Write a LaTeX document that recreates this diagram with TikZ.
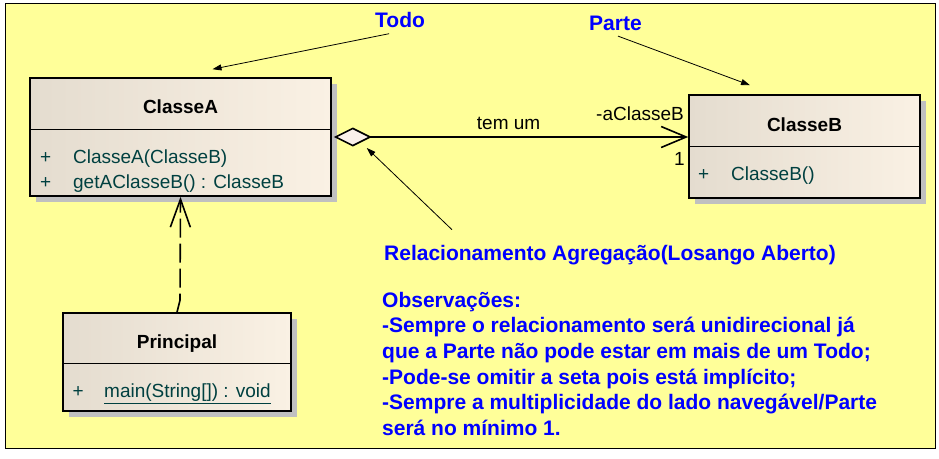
\documentclass[tikz,border=0pt]{standalone}
\usepackage{fontspec}
\setmainfont{Liberation Sans}
\usepackage{tikz}
\usetikzlibrary{arrows.meta,calc,shadows}
\definecolor{paper}{HTML}{FFFF99}
\definecolor{classleft}{HTML}{E4DCCF}
\definecolor{classright}{HTML}{FAF1E4}
\definecolor{shadowgray}{HTML}{C0C0C0}
\definecolor{membertext}{HTML}{004040}
\definecolor{noteblue}{HTML}{0000FF}
\definecolor{diamondfill}{HTML}{FAF0EA}
\tikzset{
  frame/.style={draw=black, line width=1pt, fill=paper},
  classbox/.style={draw=black, line width=1.6pt, left color=classleft, right color=classright, inner sep=0pt,
    drop shadow={shadow xshift=6pt, shadow yshift=-6pt, fill=shadowgray, opacity=1}},
  divider/.style={draw=black, line width=1.2pt},
  classname/.style={font=\fontsize{19}{23}\selectfont\bfseries, text=black, inner sep=0pt, anchor=base},
  member/.style={font=\fontsize{19}{23}\selectfont, text=membertext, inner sep=0pt, anchor=base west},
  assoc/.style={font=\fontsize{19}{23}\selectfont, text=black, inner sep=0pt, anchor=base west},
  note/.style={font=\fontsize{21}{25.6}\selectfont\bfseries, text=noteblue, inner sep=0pt, anchor=base west},
  pointer/.style={-{Triangle[length=9pt,width=6pt]}, line width=0.8pt, draw=black},
  aggregation/.style={line width=1.6pt, {Diamond[fill=diamondfill,length=38pt,width=19pt]}-{Straight Barb[length=25pt,width=21pt]}},
  dependency/.style={line width=1.6pt, dash pattern=on 19pt off 6pt, -{Straight Barb[length=28pt,width=20pt]}}
}

\begin{document}
\begin{tikzpicture}[x=1pt,y=-1pt]
  \useasboundingbox (0,0) rectangle (939,458);
  \draw[frame] (5,3) rectangle (935,448);

  % classes
  \node[classbox, minimum width=301pt, minimum height=118pt] (classA) at (180.5,137) {};
  \node[classbox, minimum width=231pt, minimum height=103pt] (classB) at (804.5,146.5) {};
  \node[classbox, minimum width=228pt, minimum height=98pt] (principal) at (177,362) {};
  \draw[divider] ($(classA.north west)+(0,52)$) -- ($(classA.north east)+(0,52)$);
  \draw[divider] ($(classB.north west)+(0,52)$) -- ($(classB.north east)+(0,52)$);
  \draw[divider] ($(principal.north west)+(0,51)$) -- ($(principal.north east)+(0,51)$);

  \node[classname] (nameA) at (180.5,113.5) {ClasseA};
  \node[classname] (nameB) at (804.5,131) {ClasseB};
  \node[classname] (nameP) at (177,348) {Principal};

  \node[member] (opA1) at (40,163.5) {\makebox[33pt][l]{+}ClasseA(ClasseB)};
  \node[member] (opA2) at (40,188) {\makebox[33pt][l]{+}getAClasseB() : ClasseB};
  \node[member] (opB1) at (698,180) {\makebox[33pt][l]{+}ClasseB()};
  \node[member] (opP1) at (72.5,397.7) {\makebox[31.5pt][l]{+}\underline{main(String[]) : void}};

  % association ends
  \node[assoc] (assocname) at (476.7,129) {tem um};
  \node[assoc] (roleB) at (596,120.7) {-aClasseB};
  \node[assoc] (multB) at (674,165) {1};

  % notes (base of a multi-line node = its last line)
  \node[note] (todo) at (375,27.3) {Todo};
  \node[note] (parte) at (589,30.7) {Parte};
  \node[note] (relac) at (384,260.7) {Relacionamento Agregação(Losango Aberto)};
  \node[note, align=left] (obs) at (382,435.3) {Observações:\\
    -Sempre o relacionamento  será unidirecional  já\\
    que a Parte não pode estar em mais de um Todo;\\
    -Pode-se omitir a seta pois está implícito;\\
    -Sempre a multiplicidade  do lado navegável/Parte\\
    será no mínimo 1.};

  % connectors
  \draw[aggregation] ([xshift=2pt]classA.east) -- (classA.east -| classB.west);
  \draw[dependency] (principal.north) -- ++(3,-12) -- (classA.south);
  \draw[pointer] ($(todo.south)+(-11,6)$) -- ($(classA.north)+(32,-8)$);
  \draw[pointer] ($(parte.south)+(2.5,5)$) -- ($(classB.north)+(-54.5,-9)$);
  \draw[pointer] ($(relac.base west)+(68,-31)$) -- ($(classA.east)+(35,11)$);
\end{tikzpicture}
\end{document}
